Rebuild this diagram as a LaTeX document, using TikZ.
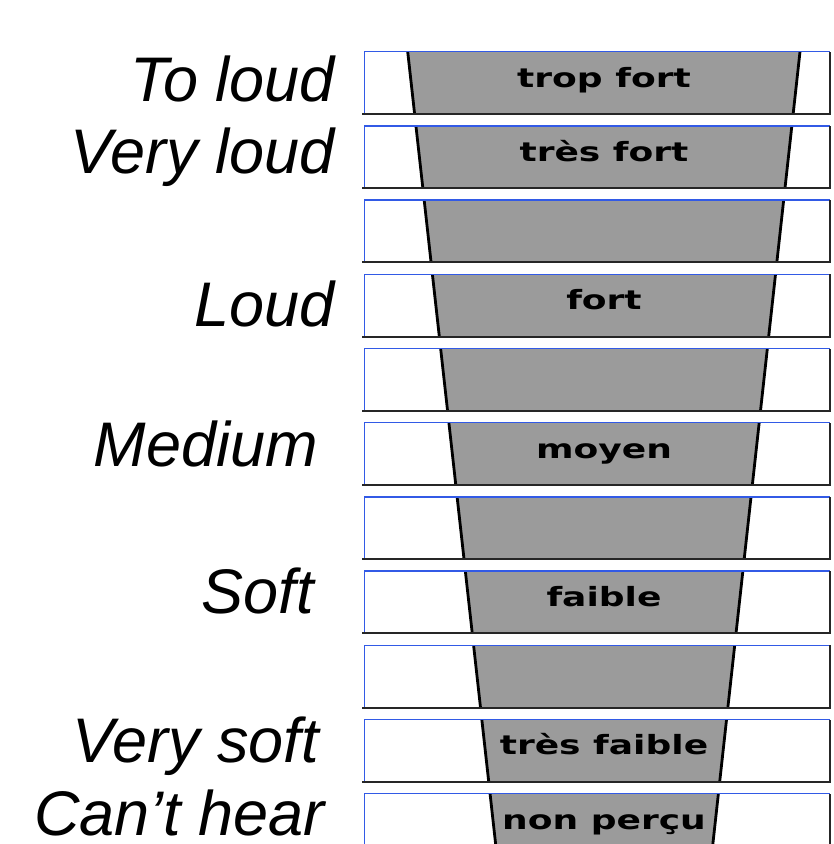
\documentclass[tikz,border=0pt]{standalone}
\usepackage{fontspec}
\setmainfont{Liberation Sans}
\newfontfamily\boxfont{DejaVu Sans}
\definecolor{edgeblue}{RGB}{50,90,230}
\definecolor{funnelgray}{RGB}{155,155,155}
\tikzset{
  funnel/.style={fill=funnelgray},
  funneledge/.style={draw=black, line width=2.8pt},
  blueedge/.style={draw=edgeblue, line width=1.4pt},
  blackedge/.style={draw=black!85, line width=2pt},
  lvl/.style={anchor=base, inner sep=0pt, font=\boxfont\bfseries\fontsize{26.5}{26.5}\selectfont, xscale=1.36},
  lab/.style={anchor=base east, inner sep=0pt, text depth=0pt, font=\itshape\fontsize{63}{63}\selectfont}
}
\begin{document}
\begin{tikzpicture}[x=1pt,y=-1pt]
\useasboundingbox (0,0) rectangle (834,844);
\fill[white] (0,0) rectangle (834,844);
\clip (0,0) rectangle (834,844);
\foreach \i in {0,...,10}{
  \pgfmathsetmacro\t{51.7+74.2*\i}
  \pgfmathsetmacro\b{\t+62.3}
  \pgfmathsetmacro\lt{407.7+0.111*(\t-51.7)}
  \pgfmathsetmacro\lb{407.7+0.111*(\b-51.7)}
  \pgfmathsetmacro\rt{800-0.110*(\t-51.7)}
  \pgfmathsetmacro\rb{800-0.110*(\b-51.7)}
  \fill[funnel] (\lt,\t) -- (\rt,\t) -- (\rb,\b) -- (\lb,\b) -- cycle;
  \draw[funneledge] (\lt,\t) -- (\lb,\b);
  \draw[funneledge] (\rt,\t) -- (\rb,\b);
  \draw[blueedge] (364.5,\b) -- (364.5,\t) -- (830,\t);
  \draw[blackedge] (362,\b) -- (830,\b) -- (830,\t);
}
% texts inside the funnel
\node[lvl] (tropfort) at (604,87) {trop fort};
\node[lvl] (tresfort) at (604,161.2) {très fort};
\node[lvl] (fort) at (604,309.6) {fort};
\node[lvl] (moyen) at (604,458) {moyen};
\node[lvl] (faible) at (604,606.4) {faible};
\node[lvl] (tresfaible) at (604,754.8) {très faible};
\node[lvl] (nonpercu) at (604,829) {non perçu};
% english labels
\node[lab] (toloud) at (335,101.7) {To loud};
\node[lab] (veryloud) at (335,173) {Very loud};
\node[lab] (loud) at (335,326.7) {Loud};
\node[lab] (medium) at (318,466) {Medium};
\node[lab] (soft) at (314,613) {Soft};
\node[lab] (verysoft) at (319,762) {Very soft};
\node[lab] (canthear) at (325,835) {Can’t hear};
\end{tikzpicture}
\end{document}
